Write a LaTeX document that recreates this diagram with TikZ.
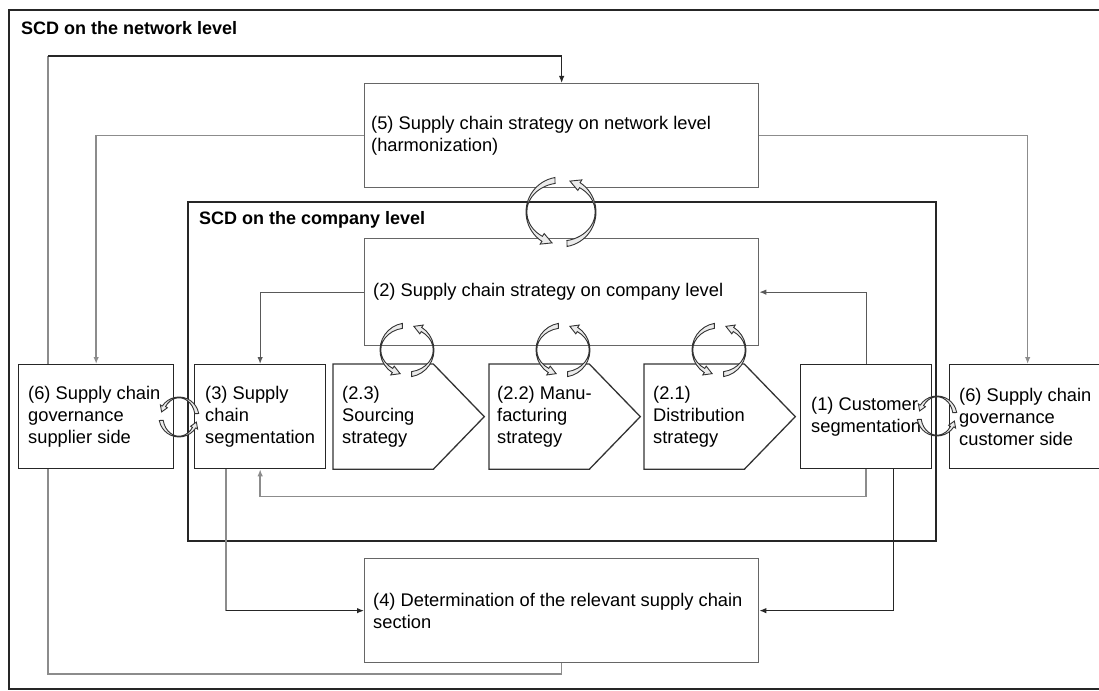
\documentclass[tikz,border=0pt]{standalone}
\usepackage{fontspec}
\setmainfont{Liberation Sans}
\usetikzlibrary{arrows.meta}

% one curved block arrow of a cycle symbol: start angle, tip angle, radius, band width
\newcommand\cycribbon[4]{%
  \pgfmathsetmacro\cbase{#2+18}%
  \pgfmathsetmacro\cix{#3-0.8}%
  \pgfmathsetmacro\ciy{#3-#4}%
  \pgfmathsetmacro\cwing{0.55*#4}%
  \pgfmathsetmacro\cout{#3+\cwing}%
  \filldraw[ribbon]
    (#1:#3) arc[start angle=#1, end angle=\cbase, radius=#3]
    -- (\cbase:\cout)
    -- ({(#3+\cix)/2*cos(#2)},{(#3+\ciy)/2*sin(#2)})
    -- ({(\cix-\cwing)*cos(\cbase)},{(\ciy-\cwing)*sin(\cbase)})
    -- ({\cix*cos(\cbase)},{\ciy*sin(\cbase)})
    arc[start angle=\cbase, end angle=#1, x radius=\cix, y radius=\ciy]
    -- cycle;}

\tikzset{
  frame/.style={draw=black!85, line width=1.8bp},
  box/.style={rectangle, draw=black!85, line width=1.3bp, fill=white, inner sep=0pt, anchor=north west},
  gbox/.style={box, draw=black!60},
  pentline/.style={draw=black!80, line width=1.3bp, fill=white},
  lbl/.style={inner sep=0pt, anchor=west, align=left, font=\fontsize{18.3bp}{22bp}\selectfont},
  ttl/.style={inner sep=0pt, anchor=west, font=\fontsize{18bp}{22bp}\selectfont\bfseries},
  kline/.style={draw=black!85, line width=1.2bp},
  gline/.style={draw=black!45, line width=1.4bp},
  mline/.style={draw=black!65, line width=1.2bp},
  arr/.style={-{Latex[length=7bp,width=5.5bp]}},
  ribbon/.style={fill=black!8, draw=black!80, line width=0.9bp},
  pics/cyc/.style 2 args={code={%
    \cycribbon{-100}{-255}{#1}{#2}%
    \cycribbon{-280}{-435}{#1}{#2}}},
}

\begin{document}
\begin{tikzpicture}[x=1bp,y=-1bp]
\clip (0,0) rectangle (1099,691);
\fill[white] (0,0) rectangle (1099,691);

% frames
\draw[frame] (9,10) rectangle (1112,689);
\draw[frame] (188,202) rectangle (936,541);
\node[ttl] (tnet) at (21,28) {SCD on the network level};
\node[ttl] (tcomp) at (199,220) {SCD on the company level};

% boxes
\node[gbox, minimum width=394bp, minimum height=104bp] (b5) at (364,83) {};
\node[gbox, minimum width=394bp, minimum height=107bp] (b2) at (364,238) {};
\node[box, minimum width=155bp, minimum height=104bp] (b6l) at (18,364) {};
\node[box, minimum width=131bp, minimum height=104bp] (b3) at (194,364) {};
\node[box, draw=none, fill=none, minimum width=99bp, minimum height=104bp] (p23) at (333,364) {};
\node[box, draw=none, fill=none, minimum width=99bp, minimum height=104bp] (p22) at (489,364) {};
\node[box, draw=none, fill=none, minimum width=99bp, minimum height=104bp] (p21) at (644,364) {};
\node[box, minimum width=131bp, minimum height=104bp] (b1) at (800,364) {};
\node[box, minimum width=156bp, minimum height=104bp] (b6r) at (949,364) {};
\node[gbox, minimum width=394bp, minimum height=104bp] (b4) at (364,558) {};

% connectors
\coordinate (cbl) at (48,674);
\coordinate (ctl) at (48,56);
\path (b3.south) ++(0,27) coordinate (ret);
\path (b3.south west) ++(32,0) coordinate (s3);
\path (b1.south east) ++(-39,0) coordinate (s1);
\draw[gline] (b4.south) |- (cbl) -- (ctl);
\draw[kline, arr] (ctl) -| (b5.north);
\draw[gline, arr] (b5.west) -| (b6l.north);
\draw[gline, arr] (b5.east) -| (b6r.north);
\draw[mline, arr] (b2.west) -| (b3.north);
\draw[mline, arr] (b1.north) |- (b2.east);
\draw[gline, arr] (b1.south) |- (ret) -- (b3.south);
\draw[gline] (s3) -- (s3 |- b4.west);
\draw[kline, arr] (s3 |- b4.west) -- (b4.west);
\draw[kline, arr] (s1) |- (b4.east);

% redraw boxes over the connectors
\node[gbox, minimum width=394bp, minimum height=104bp] at (364,83) {};
\node[gbox, minimum width=394bp, minimum height=107bp] at (364,238) {};
\node[box, minimum width=155bp, minimum height=104bp] at (18,364) {};
\node[box, minimum width=131bp, minimum height=104bp] at (194,364) {};
\node[box, minimum width=131bp, minimum height=104bp] at (800,364) {};
\node[box, minimum width=156bp, minimum height=104bp] at (949,364) {};
\node[gbox, minimum width=394bp, minimum height=104bp] at (364,558) {};
\foreach \p in {p23,p22,p21}
  \draw[pentline] (\p.north west) -- (\p.north east) -- ([xshift=51bp]\p.east)
    -- (\p.south east) -- (\p.south west) -- cycle;

% texts
\node[lbl] (t5) at ([xshift=7bp]b5.west) {(5) Supply chain strategy on network level\\(harmonization)};
\node[lbl] (t2) at ([xshift=9bp]b2.west) {(2) Supply chain strategy on company level};
\node[lbl] (t6l) at ([xshift=10bp]b6l.west) {(6) Supply chain\\governance\\supplier side};
\node[lbl] (t3) at ([xshift=11bp]b3.west) {(3) Supply\\chain\\segmentation};
\node[lbl] (t23) at ([xshift=9bp]p23.west) {(2.3)\\Sourcing\\strategy};
\node[lbl] (t22) at ([xshift=8bp]p22.west) {(2.2) Manu-\\facturing\\strategy};
\node[lbl] (t21) at ([xshift=9bp]p21.west) {(2.1)\\Distribution\\strategy};
\node[lbl] (t1) at ([xshift=11bp]b1.west) {(1) Customer\\segmentation};
\node[lbl] (t6r) at ([xshift=10bp]b6r.west) {(6) Supply chain\\governance\\customer side};
\node[lbl] (t4) at ([xshift=9bp]b4.west) {(4) Determination of the relevant supply chain\\section};

% cycle symbols
\pic at (561,212) {cyc={35}{6}};
\pic at (407,350) {cyc={27}{5}};
\pic at (563,350) {cyc={27}{5}};
\pic at (719,350) {cyc={27}{5}};
\pic[rotate=90] at (179,417) {cyc={20}{4}};
\pic[rotate=90] at (937,416) {cyc={20}{4}};
\end{tikzpicture}
\end{document}
